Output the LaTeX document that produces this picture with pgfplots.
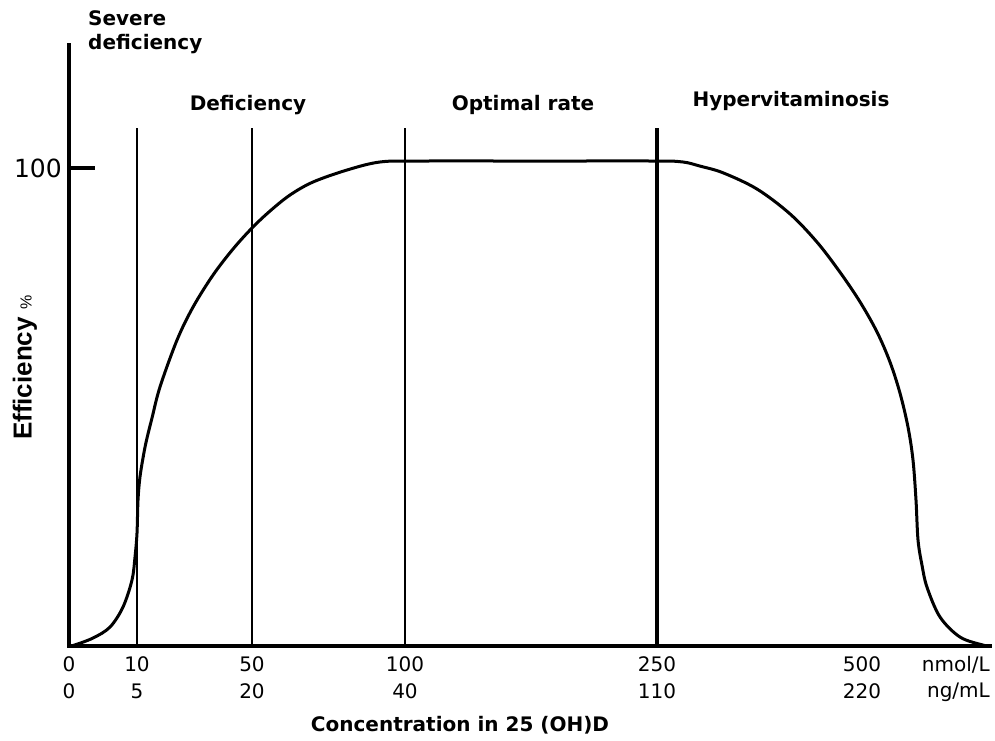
\documentclass[border=0pt]{standalone}
\usepackage{pgfplots}
\pgfplotsset{compat=1.18}
\usepackage{fontspec}
\setmainfont{DejaVu Sans}
\newfontfamily\lib{Liberation Sans}
\begin{document}
\begin{tikzpicture}
\begin{axis}[
  scale only axis,
  width=921pt, height=601pt,
  xmin=69, xmax=990, ymin=0, ymax=125.73,
  axis x line*=bottom, axis y line*=left,
  axis line style={-, line width=3.5pt, line cap=rect},
  clip=false,
  xtick={69,137,252,405,657,862},
  xticklabels={{0\\0},{10\\5},{50\\20},{100\\40},{250\\110},{500\\220}},
  xtick style={draw=none},
  xticklabel style={align=center, inner sep=0pt, font=\fontsize{20}{27}\selectfont, yshift=-10pt},
  ytick={100},
  yticklabels={100},
  ytick style={line width=4.5pt, black},
  major tick length=26pt,
  tick align=inside,
  yticklabel style={inner sep=0pt, xshift=-7pt, font=\fontsize{25}{25}\selectfont},
]
\addplot[black, line width=3pt, smooth, tension=0.55] coordinates {
(69,0) (73,0.1) (93,1.67) (110,3.97) (123,8.16) (132,13.8) (135,18.6) (137,23.6)
(138,30.5) (140,35.4) (144,40.5) (147,43.5) (152,47.7) (160,54.2) (177,64.0) (193,70.9)
(213,77.6) (233,83.05) (252,87.45) (270,91.0) (290,94.35) (313,97.07) (347,99.58) (380,101.26) (420,101.46)
(540,101.46) (657,101.46) (683,101.26) (700,100.4) (723,99.0) (757,95.6) (790,90.4) (817,84.5)
(840,78.2) (860,72.0) (877,65.7) (890,59.4) (900,52.9) (908,45.8) (913,38.9) (916,30.5) (918,22.2)
(922,16.9) (927,12.3) (940,6.07) (960,1.88) (983,0.2) (990,0)
};
\addplot[black, line width=2.2pt] coordinates {(137,0) (137,108.4)};
\addplot[black, line width=2.2pt] coordinates {(252,0) (252,108.4)};
\addplot[black, line width=2.2pt] coordinates {(405,0) (405,108.4)};
\addplot[black, line width=3.2pt] coordinates {(657,0) (657,108.4)};

\node[anchor=north west, align=left, inner sep=0pt, font=\bfseries\fontsize{20}{24}\selectfont] at (axis cs:88,133.0) {Severe\\deficiency};
\node[font=\bfseries\fontsize{20}{24}\selectfont] at (axis cs:248,113.2) {Deficiency};
\node[font=\bfseries\fontsize{20}{24}\selectfont] at (axis cs:523,113.2) {Optimal rate};
\node[font=\bfseries\fontsize{20}{24}\selectfont] at (axis cs:791,114.0) {Hypervitaminosis};
\node[rotate=90] at (axis cs:25,58.2) {\lib\bfseries\fontsize{26}{26}\selectfont Efficiency \fontsize{16}{16}\selectfont\mdseries\%};
\node[font=\bfseries\fontsize{20}{24}\selectfont] at (axis cs:460,-16.5) {Concentration in 25 (OH)D};
\node[anchor=east, inner sep=0pt, font=\fontsize{20}{24}\selectfont] at (axis cs:990,-4.0) {nmol/L};
\node[anchor=east, inner sep=0pt, font=\fontsize{20}{24}\selectfont] at (axis cs:990,-9.6) {ng/mL};
\coordinate (bl) at (axis cs:0,-19.67);
\coordinate (tr) at (axis cs:995,135.15);
\end{axis}
\pgfresetboundingbox
\path (bl) rectangle (tr);
\end{tikzpicture}
\end{document}
